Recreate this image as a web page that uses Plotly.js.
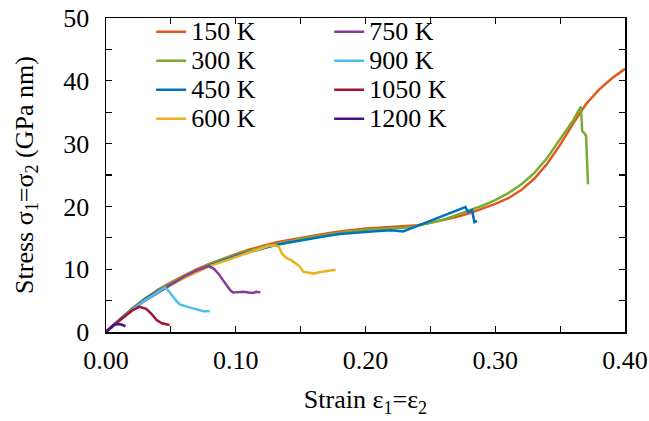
<!DOCTYPE html>
<html>
<head>
<meta charset="utf-8">
<script src="https://cdn.plot.ly/plotly-3.0.1.min.js"></script>
<style>html,body{margin:0;padding:0;background:#fff;}#chart{width:649px;height:421px;}</style>
</head>
<body>
<div id="chart"></div>
<script>
// Series names
const seriesNames = ["150 K","300 K","450 K","600 K","750 K","900 K","1050 K","1200 K"];
const seriesColors = ["#E1581D","#77AC30","#0072BD","#EDB120","#8A3A9A","#4DBEEE","#A2142F","#4B0C8C"];

// 150 K
const strain150 = [0,0.01,0.02,0.03,0.04,0.05,0.06,0.07,0.08,0.09,0.10,0.11,0.12,0.13,0.14,0.15,0.16,0.17,0.18,0.19,0.20,0.21,0.22,0.23,0.24,0.25,0.26,0.27,0.28,0.29,0.30,0.31,0.32,0.33,0.34,0.35,0.36,0.37,0.38,0.39,0.40];
const stress150 = [0,1.9,3.7,5.3,6.7,7.9,9.0,10.0,10.9,11.7,12.4,13.1,13.7,14.2,14.6,15.0,15.4,15.7,16.0,16.3,16.5,16.6,16.7,16.8,17.0,17.4,17.8,18.3,18.9,19.6,20.4,21.3,22.6,24.4,26.8,29.8,33.2,36.3,38.6,40.4,41.9];
// 300 K
const strain300 = [0,0.01,0.02,0.03,0.04,0.05,0.06,0.07,0.08,0.09,0.10,0.11,0.12,0.13,0.14,0.15,0.16,0.17,0.18,0.19,0.20,0.21,0.22,0.23,0.24,0.25,0.26,0.27,0.28,0.29,0.30,0.31,0.32,0.33,0.34,0.35,0.36,0.366,0.367,0.369,0.370,0.3715];
const stress300 = [0,1.9,3.7,5.3,6.6,7.8,8.9,9.9,10.8,11.6,12.3,12.9,13.5,14.0,14.4,14.8,15.2,15.5,15.8,16.1,16.3,16.4,16.5,16.6,16.9,17.4,17.9,18.6,19.3,20.1,21.0,22.1,23.5,25.3,27.7,30.6,33.7,35.9,32.0,31.6,31.2,23.5];
// 450 K
const strain450 = [0,0.01,0.02,0.03,0.04,0.05,0.06,0.07,0.08,0.09,0.10,0.11,0.12,0.13,0.14,0.15,0.16,0.17,0.18,0.19,0.20,0.21,0.22,0.229,0.24,0.25,0.26,0.27,0.277,0.279,0.282,0.284,0.286];
const stress450 = [0,1.9,3.6,5.2,6.5,7.6,8.7,9.7,10.6,11.4,12.1,12.7,13.3,13.8,14.2,14.6,15.0,15.3,15.6,15.8,16.0,16.1,16.2,16.0,16.9,17.7,18.5,19.3,19.9,19.1,19.4,17.5,17.7];
// 600 K
const strain600 = [0,0.01,0.02,0.03,0.04,0.05,0.06,0.07,0.08,0.09,0.10,0.11,0.12,0.125,0.13,0.133,0.136,0.139,0.143,0.146,0.149,0.152,0.156,0.160,0.164,0.168,0.172,0.177];
const stress600 = [0,1.8,3.5,5.0,6.3,7.5,8.6,9.6,10.5,11.2,11.9,12.6,13.3,13.7,13.8,13.6,12.4,11.8,11.4,11.0,10.5,9.6,9.4,9.3,9.5,9.6,9.8,9.9];
// 750 K
const strain750 = [0,0.01,0.02,0.03,0.04,0.05,0.06,0.07,0.075,0.079,0.083,0.087,0.090,0.092,0.094,0.096,0.098,0.102,0.106,0.110,0.113,0.116,0.119];
const stress750 = [0,1.8,3.5,5.0,6.3,7.6,8.8,9.8,10.2,10.5,10.1,9.2,8.3,7.7,7.1,6.6,6.3,6.4,6.4,6.3,6.2,6.4,6.3];
// 900 K
const strain900 = [0,0.01,0.02,0.03,0.04,0.0455,0.048,0.051,0.054,0.057,0.062,0.066,0.070,0.075,0.080];
const stress900 = [0,1.8,3.5,5.0,6.3,7.1,6.6,5.8,5.0,4.4,4.0,3.8,3.6,3.3,3.3];
// 1050 K
const strain1050 = [0,0.01,0.02,0.0255,0.031,0.035,0.039,0.043,0.049];
const stress1050 = [0,1.8,3.4,4.0,3.7,2.9,1.9,1.4,1.1];
// 1200 K
const strain1200 = [0,0.003,0.0055,0.009,0.012,0.015];
const stress1200 = [0,0.6,1.1,1.25,1.2,0.9];

const xs = [strain150,strain300,strain450,strain600,strain750,strain900,strain1050,strain1200];
const ys = [stress150,stress300,stress450,stress600,stress750,stress900,stress1050,stress1200];

const traces = seriesNames.map((name,i)=>({
  x: xs[i], y: ys[i], type:'scatter', mode:'lines',
  name: '<span style="font-size:26px">' + name + '</span>',
  line:{color: seriesColors[i], width:2.5},
  legend: i < 4 ? 'legend' : 'legend2'
}));

const fontFam = '"Liberation Serif","Times New Roman",serif';
const legendCommon = {
  bgcolor:'rgba(0,0,0,0)', borderwidth:0,
  font:{family:fontFam, size:20, color:'#000'},
  xanchor:'left', yanchor:'top', tracegroupgap:0
};

const layout = {
  width:649, height:421,
  margin:{l:106, r:24, t:13, b:89},
  paper_bgcolor:'#fff', plot_bgcolor:'#fff',
  font:{family:fontFam, size:26, color:'#000'},
  showlegend:true,
  legend: Object.assign({x:0.087, y:1.018}, legendCommon),
  legend2: Object.assign({x:0.43, y:1.018}, legendCommon),
  xaxis:{
    range:[0,0.4], dtick:0.1, tickformat:'.2f',
    showgrid:false, zeroline:false,
    showline:true, linecolor:'#000', linewidth:1.5, mirror:'ticks',
    ticks:'inside', ticklen:6, tickwidth:1.2, tickcolor:'#000',
    minor:{ticks:'inside', dtick:0.05, ticklen:6, tickwidth:1.2, tickcolor:'#000', showgrid:false},
    tickfont:{family:fontFam, size:26}, ticklabelstandoff:4,
    title:{text:'Strain ε<sub>1</sub>=ε<sub>2</sub>', font:{family:fontFam, size:26}, standoff:16}
  },
  yaxis:{
    range:[0,50], dtick:10,
    showgrid:false, zeroline:false,
    showline:true, linecolor:'#000', linewidth:1.5, mirror:'ticks',
    ticks:'inside', ticklen:6, tickwidth:1.2, tickcolor:'#000',
    minor:{ticks:'inside', dtick:5, ticklen:6, tickwidth:1.2, tickcolor:'#000', showgrid:false},
    tickfont:{family:fontFam, size:26}, ticklabelstandoff:10,
    title:{text:'Stress σ<sub>1</sub>=σ<sub>2</sub> (GPa nm)', font:{family:fontFam, size:26}, standoff:22}
  }
};

Plotly.newPlot('chart', traces, layout, {displayModeBar:false, staticPlot:true});
</script>
</body>
</html>
